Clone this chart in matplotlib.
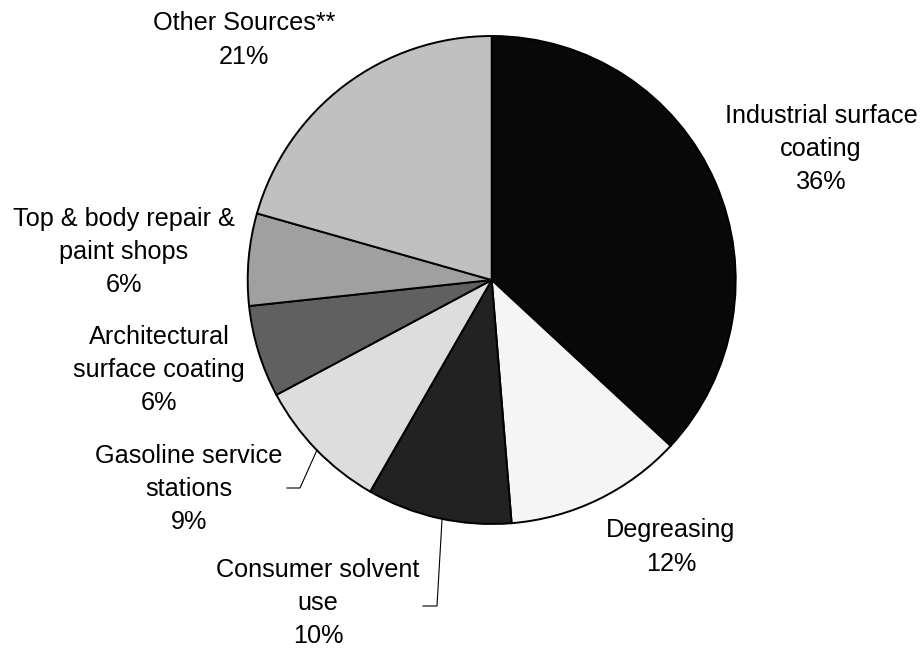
import matplotlib
matplotlib.use("Agg")
import matplotlib.pyplot as plt

categories = ["Industrial surface\ncoating", "Degreasing", "Consumer solvent\nuse",
              "Gasoline service\nstations", "Architectural\nsurface coating",
              "Top & body repair &\npaint shops", "Other Sources**"]
shares = [36.9, 11.8, 9.6, 8.9, 6.1, 6.1, 20.6]
pct_labels = ["36%", "12%", "10%", "9%", "6%", "6%", "21%"]
colors = ["#080808", "#f5f5f5", "#222222", "#dddddd", "#606060", "#a0a0a0", "#c0c0c0"]

W, H = 922, 648
fig = plt.figure(figsize=(W / 100, H / 100), dpi=100)
ax = fig.add_axes([0, 0, 1, 1])

cx, cy, r = 491.7, H - 280.0, 244
ax.pie(shares, colors=colors, startangle=90, counterclock=False,
       center=(cx, cy), radius=r,
       wedgeprops=dict(edgecolor="black", linewidth=1.4))
ax.set_xlim(0, W)
ax.set_ylim(0, H)
ax.set_aspect("equal")
ax.axis("off")

# label centres in pixel coordinates (x, y from top)
label_pos = [(821, 149), (671, 547), (318, 603), (189, 489), (159, 370), (124, 252), (244, 40)]
for cat, pct, (lx, ly) in zip(categories, pct_labels, label_pos):
    ax.text(lx, H - ly, f"{cat}\n{pct}", ha="center", va="center",
            fontsize=18.2, family="Liberation Sans", color="black", linespacing=1.48)

# leader lines
ax.plot([287, 300, 317], [H - 488, H - 488, H - 450], color="black", lw=0.8)
ax.plot([423, 437, 442], [H - 606, H - 606, H - 520], color="black", lw=0.8)

fig.savefig("out.png", dpi=100)
